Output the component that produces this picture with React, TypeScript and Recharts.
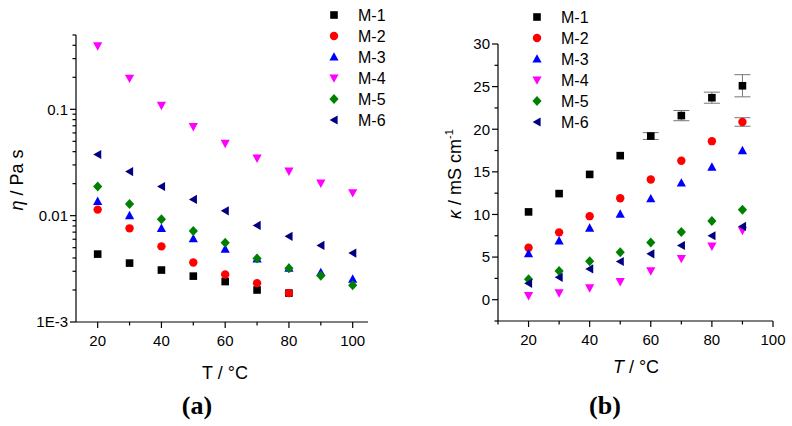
import React from 'react';
import { ScatterChart, Scatter, XAxis, YAxis, ErrorBar } from 'recharts';

const temperatures = [20, 30, 40, 50, 60, 70, 80, 90, 100];
const seriesNames = ['M-1', 'M-2', 'M-3', 'M-4', 'M-5', 'M-6'];
const seriesColors = ['#000000', '#ff0000', '#0000ff', '#ff00ff', '#008000', '#000080'];
const seriesMarkers = ['square', 'circle', 'up', 'down', 'diamond', 'left'];

// (a) viscosity in Pa s
const viscosityM1 = [0.00435, 0.00358, 0.00308, 0.0027, 0.0024, 0.002, 0.00187];
const viscosityM2 = [0.0114, 0.0076, 0.00514, 0.00363, 0.0028, 0.00232, 0.00187];
const viscosityM3 = [0.01365, 0.01, 0.0076, 0.00607, 0.00485, 0.00393, 0.00321, 0.00292, 0.00253];
const viscosityM4 = [0.395, 0.196, 0.109, 0.0687, 0.0478, 0.0347, 0.0262, 0.0202, 0.0164];
const viscosityM5 = [0.0188, 0.0129, 0.00923, 0.00717, 0.00556, 0.00396, 0.00321, 0.00272, 0.00222];
const viscosityM6 = [0.0376, 0.026, 0.0188, 0.0142, 0.0111, 0.0081, 0.00639, 0.00525, 0.00445];

// (b) conductivity in mS/cm, 20..90 °C
const conductivityM1 = [10.3, 12.45, 14.7, 16.9, 19.2, 21.6, 23.7, 25.1];
const conductivityM2 = [6.1, 7.9, 9.8, 11.9, 14.1, 16.3, 18.6, 20.85];
const conductivityM3 = [5.4, 6.9, 8.4, 10.05, 11.85, 13.7, 15.55, 17.5];
const conductivityM4 = [0.47, 0.8, 1.38, 2.12, 3.38, 4.83, 6.28, 8.13];
const conductivityM5 = [2.4, 3.38, 4.5, 5.57, 6.71, 7.93, 9.23, 10.56];
const conductivityM6 = [1.92, 2.63, 3.61, 4.48, 5.38, 6.36, 7.5, 8.6];
// only the bars that stick out from behind the markers
const conductivityErrM1 = [null, null, null, null, 0.4, 0.6, 0.65, 1.3];
const conductivityErrM2 = [null, null, null, null, null, null, null, 0.5];

const viscosityTicks = [
  0.001, 0.002, 0.003, 0.004, 0.005, 0.006, 0.007, 0.008, 0.009,
  0.01, 0.02, 0.03, 0.04, 0.05, 0.06, 0.07, 0.08, 0.09,
  0.1, 0.2, 0.3, 0.4, 0.5,
];
const viscosityTickLabels: Record<string, string> = { '0.001': '1E-3', '0.01': '0.01', '0.1': '0.1' };
const conductivityTicks = [-2.5, 0, 2.5, 5, 7.5, 10, 12.5, 15, 17.5, 20, 22.5, 25, 27.5, 30];
const conductivityTickLabels: Record<string, string> = {
  '0': '0', '5': '5', '10': '10', '15': '15', '20': '20', '25': '25', '30': '30',
};
const tempTicksA = [20, 30, 40, 50, 60, 70, 80, 90, 100];
const tempTickLabelsA: Record<string, string> = { '20': '20', '40': '40', '60': '60', '80': '80', '100': '100' };
const tempTicksB = [10, 20, 30, 40, 50, 60, 70, 80, 90, 100];
const tempTickLabelsB: Record<string, string> = { '20': '20', '40': '40', '60': '60', '80': '80', '100': '100' };

const viscosity = [viscosityM1, viscosityM2, viscosityM3, viscosityM4, viscosityM5, viscosityM6];
const conductivity = [conductivityM1, conductivityM2, conductivityM3, conductivityM4, conductivityM5, conductivityM6];

const FONT = '"Liberation Sans", Arial, sans-serif';

function Marker({ kind, cx, cy, color }: { kind: string; cx: number; cy: number; color: string }) {
  switch (kind) {
    case 'square':
      return <rect x={cx - 3.8} y={cy - 3.8} width={7.6} height={7.6} fill={color} />;
    case 'circle':
      return <circle cx={cx} cy={cy} r={4.2} fill={color} />;
    case 'up':
      return <polygon points={`${cx},${cy - 4.8} ${cx + 4.6},${cy + 3.6} ${cx - 4.6},${cy + 3.6}`} fill={color} />;
    case 'down':
      return <polygon points={`${cx},${cy + 4.8} ${cx + 4.6},${cy - 3.6} ${cx - 4.6},${cy - 3.6}`} fill={color} />;
    case 'diamond':
      return <polygon points={`${cx},${cy - 5} ${cx + 4.6},${cy} ${cx},${cy + 5} ${cx - 4.6},${cy}`} fill={color} />;
    default:
      return <polygon points={`${cx - 4.4},${cy} ${cx + 3.6},${cy - 4.6} ${cx + 3.6},${cy + 4.6}`} fill={color} />;
  }
}

function yTick(labels: Record<string, string>) {
  return (props: any) => {
    const { x, y, payload } = props;
    const label = labels[String(payload.value)];
    const len = label !== undefined ? 6 : 3.5;
    return (
      <g>
        <line x1={x} x2={x - len} y1={y} y2={y} stroke="#000" strokeWidth={1.2} />
        {label !== undefined && (
          <text x={x - 8} y={y} dy="0.36em" textAnchor="end" fontSize={15} fontFamily={FONT} fill="#000">
            {label}
          </text>
        )}
      </g>
    );
  };
}

function xTick(labels: Record<string, string>) {
  return (props: any) => {
    const { x, y, payload } = props;
    const label = labels[String(payload.value)];
    const len = label !== undefined ? 6 : 3.5;
    return (
      <g>
        <line x1={x} x2={x} y1={y} y2={y + len} stroke="#000" strokeWidth={1.2} />
        {label !== undefined && (
          <text x={x} y={y + 24} textAnchor="middle" fontSize={15} fontFamily={FONT} fill="#000">
            {label}
          </text>
        )}
      </g>
    );
  };
}

function Legend({ left, top }: { left: number; top: number }) {
  return (
    <g>
      {seriesNames.map((name, i) => (
        <g key={name}>
          <Marker kind={seriesMarkers[i]} cx={left} cy={top + i * 21} color={seriesColors[i]} />
          <text x={left + 24} y={top + i * 21} dy="0.36em" fontSize={16} fontFamily={FONT} fill="#000">
            {name}
          </text>
        </g>
      ))}
    </g>
  );
}

const axisLine = { stroke: '#000', strokeWidth: 1.2 };

export default function App() {
  return (
    <div style={{ position: 'absolute', left: 0, top: 0, width: 792, height: 426, background: '#fff' }}>
      <div style={{ position: 'absolute', left: 0, top: 0 }}>
        <ScatterChart width={400} height={426} margin={{ top: 35, right: 32, bottom: 0, left: 0 }}>
          <XAxis
            type="number"
            dataKey="x"
            domain={[13.2, 104.8]}
            ticks={tempTicksA}
            interval={0}
            height={104}
            tickSize={0}
            tickMargin={0}
            tickLine={false}
            axisLine={axisLine}
            tick={xTick(tempTickLabelsA)}
            allowDataOverflow
          />
          <YAxis
            type="number"
            dataKey="y"
            scale="log"
            domain={[0.001, 0.5]}
            ticks={viscosityTicks}
            interval={0}
            width={76}
            tickSize={0}
            tickMargin={0}
            tickLine={false}
            axisLine={axisLine}
            tick={yTick(viscosityTickLabels)}
            allowDataOverflow
          />
          {viscosity.map((vals, i) => (
            <Scatter
              key={seriesNames[i]}
              name={seriesNames[i]}
              data={vals.map((v, j) => ({ x: temperatures[j], y: v }))}
              isAnimationActive={false}
              shape={(p: any) => <Marker kind={seriesMarkers[i]} cx={p.cx} cy={p.cy} color={seriesColors[i]} />}
            />
          ))}
        </ScatterChart>
      </div>
      <div style={{ position: 'absolute', left: 400, top: 0 }}>
        <ScatterChart width={392} height={426} margin={{ top: 44, right: 19, bottom: 0, left: 0 }}>
          <XAxis
            type="number"
            dataKey="x"
            domain={[10, 100]}
            ticks={tempTicksB}
            interval={0}
            height={105}
            tickSize={0}
            tickMargin={0}
            tickLine={false}
            axisLine={axisLine}
            tick={xTick(tempTickLabelsB)}
            allowDataOverflow
          />
          <YAxis
            type="number"
            dataKey="y"
            domain={[-2.5, 30]}
            ticks={conductivityTicks}
            interval={0}
            width={98}
            tickSize={0}
            tickMargin={0}
            tickLine={false}
            axisLine={axisLine}
            tick={yTick(conductivityTickLabels)}
            allowDataOverflow
          />
          {conductivity.map((vals, i) => {
            const errs = i === 0 ? conductivityErrM1 : i === 1 ? conductivityErrM2 : null;
            return (
              <Scatter
                key={seriesNames[i]}
                name={seriesNames[i]}
                data={vals.map((v, j) => ({ x: temperatures[j], y: v, err: errs ? errs[j] : null }))}
                isAnimationActive={false}
                shape={(p: any) => <Marker kind={seriesMarkers[i]} cx={p.cx} cy={p.cy} color={seriesColors[i]} />}
              >
                {errs && (
                  <ErrorBar dataKey="err" direction="y" width={8} stroke="#777" strokeWidth={1} isAnimationActive={false} />
                )}
              </Scatter>
            );
          })}
        </ScatterChart>
      </div>
      <svg width={792} height={426} style={{ position: 'absolute', left: 0, top: 0, pointerEvents: 'none' }}>
        <Legend left={334} top={15} />
        <Legend left={537} top={17} />
        <text x={225} y={379} textAnchor="middle" fontSize={18} fontFamily={FONT}>T / °C</text>
        <text x={636} y={373} textAnchor="middle" fontSize={18} fontFamily={FONT}>
          <tspan fontStyle="italic">T</tspan> / °C
        </text>
        <text x={23} y={180} transform="rotate(-90, 23, 180)" textAnchor="middle" fontSize={18} fontFamily={FONT}>
          <tspan fontStyle="italic">η</tspan> / Pa s
        </text>
        <text x={461} y={174} transform="rotate(-90, 461, 174)" textAnchor="middle" fontSize={18} fontFamily={FONT}>
          <tspan fontStyle="italic">κ</tspan> / mS cm<tspan fontSize={11} dy={-8}>-1</tspan>
        </text>
        <text x={197} y={414} textAnchor="middle" fontSize={26} fontWeight="bold" fontFamily='"Liberation Serif", "Times New Roman", serif'>
          (<tspan>a</tspan>)
        </text>
        <text x={605} y={414} textAnchor="middle" fontSize={26} fontWeight="bold" fontFamily='"Liberation Serif", "Times New Roman", serif'>
          (<tspan>b</tspan>)
        </text>
      </svg>
    </div>
  );
}
